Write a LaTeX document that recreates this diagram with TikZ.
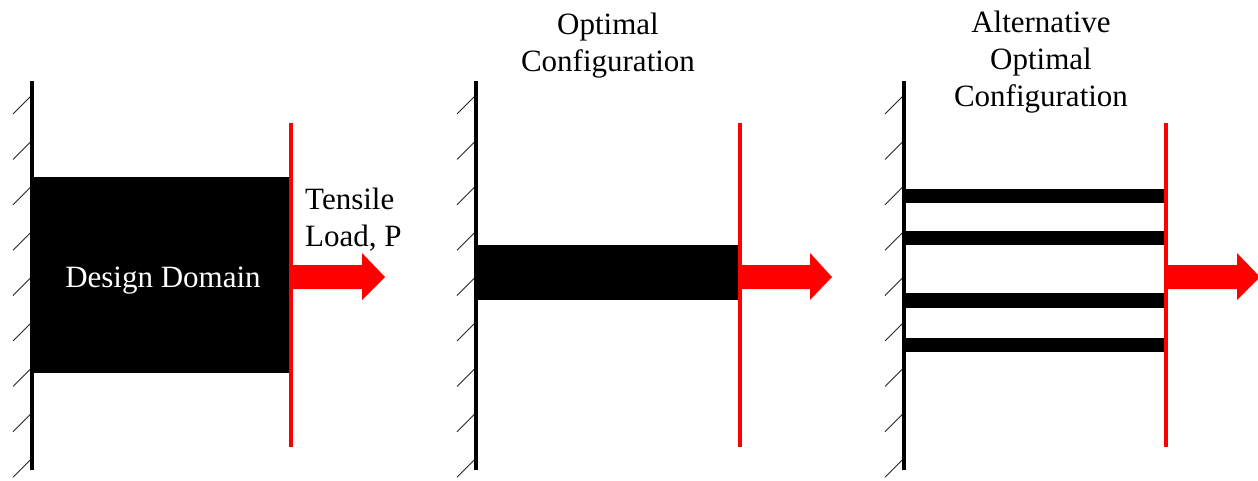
\documentclass[tikz,border=0pt]{standalone}
\usepackage{fontspec}
\setmainfont{Liberation Serif}
\begin{document}
\begin{tikzpicture}[x=1pt,y=-1pt,
  wall/.style={line width=4.5pt, black},
  hatchline/.style={line width=0.9pt, black!85},
  loadline/.style={line width=4.5pt, red},
  member/.style={fill=black, draw=none},
  loadarrow/.style={fill=red, draw=none},
  lbl/.style={font=\fontsize{31}{37}\selectfont, inner sep=0pt, align=center}]
\useasboundingbox (0,0) rectangle (1258,481);

% hatches
\foreach \wx in {32,476,904}{
  \foreach \k in {0,...,8}{
    \draw[hatchline] (\wx,95+45.4*\k) -- ++(-19,19);
  }
}

% panel 1
\fill[member] (32,177) rectangle (291,373);
\draw[wall] (32,81) -- (32,470);
\draw[loadline] (291,123) -- (291,447);
\fill[loadarrow] (291,265) -- (362,265) -- (362,253) -- (385,277) -- (362,300) -- (362,289) -- (291,289) -- cycle;
\node[lbl, text=white, anchor=base] (dd) at (163,287) {Design Domain};
\node[lbl, anchor=north west, align=left] (load) at (305,188) {Tensile\\Load, P};

% panel 2
\fill[member] (476,245) rectangle (740,300);
\draw[wall] (476,81) -- (476,470);
\draw[loadline] (740,123) -- (740,447);
\fill[loadarrow] (740,265) -- (810,265) -- (810,253) -- (832,277) -- (810,300) -- (810,289) -- (740,289) -- cycle;
\node[lbl, anchor=north] (opt) at (608,13) {Optimal\\Configuration};

% panel 3
\foreach \ya/\yb in {189/203, 231/245, 293/308, 338/352}{
  \fill[member] (904,\ya) rectangle (1166,\yb);
}
\draw[wall] (904,81) -- (904,470);
\draw[loadline] (1166,123) -- (1166,447);
\fill[loadarrow] (1166,265) -- (1237,265) -- (1237,253) -- (1260,277) -- (1237,300) -- (1237,289) -- (1166,289) -- cycle;
\node[lbl, anchor=north] (alt) at (1041,11) {Alternative\\Optimal\\Configuration};
\end{tikzpicture}
\end{document}
